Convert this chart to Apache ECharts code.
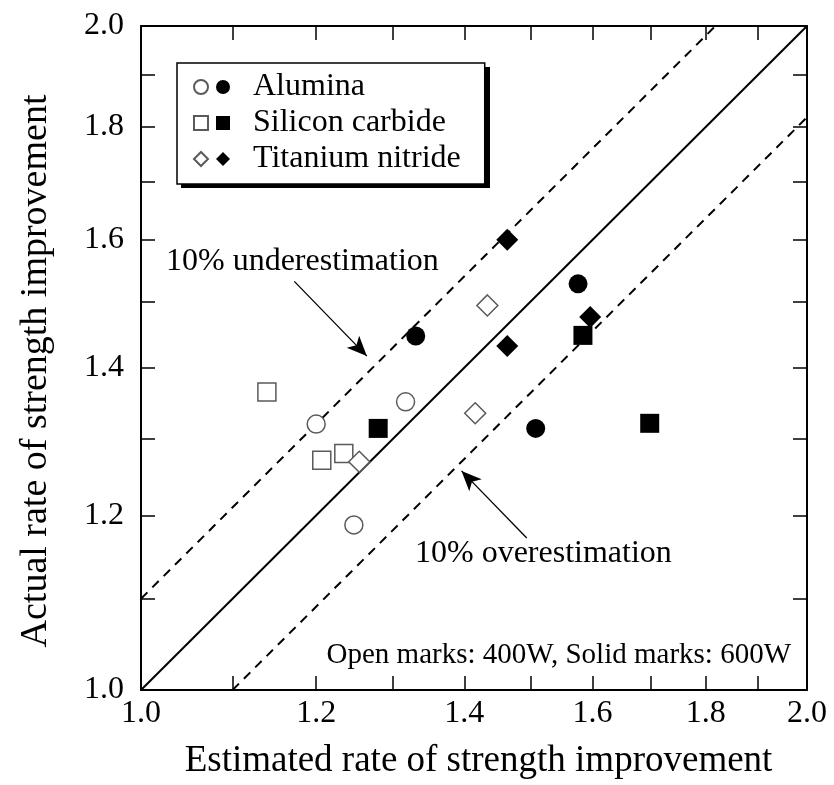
<!DOCTYPE html>
<html>
<head>
<meta charset="utf-8">
<script src="https://cdn.jsdelivr.net/npm/echarts@6/dist/echarts.min.js"></script>
<style>
html,body{margin:0;padding:0;background:#fff;}
#chart{width:834px;height:785px;}
</style>
</head>
<body>
<div id="chart"></div>
<script>
// ---- data ----
const xLabelValues = [1.0, 1.2, 1.4, 1.6, 1.8, 2.0];
const tickValues = [1.0, 1.1, 1.2, 1.3, 1.4, 1.5, 1.6, 1.7, 1.8, 1.9, 2.0];

const aluminaOpen = [[1.20, 1.32], [1.317, 1.351], [1.248, 1.188]];
const aluminaSolid = [[1.331, 1.447], [1.576, 1.528], [1.508, 1.314]];
const sicOpen = [[1.140, 1.365], [1.207, 1.271], [1.235, 1.280]];
const sicSolid = [[1.280, 1.314], [1.584, 1.448], [1.698, 1.321]];
const tinOpen = [[1.255, 1.269], [1.416, 1.335], [1.434, 1.494]];
const tinSolid = [[1.464, 1.600], [1.464, 1.432], [1.596, 1.476]];

const parityLine = [[1.0, 1.0], [2.0, 2.0]];
const underLine = [[1.0, 1.1], [2.0 / 1.1, 2.0]];
const overLine = [[1.1, 1.0], [2.0, 2.0 / 1.1]];

const underArrow = [[1.173, 1.532], [1.265, 1.417]];
const overArrow = [[1.494, 1.172], [1.396, 1.257]];

const materials = ['Alumina', 'Silicon carbide', 'Titanium nitride'];

const FONT = '"Liberation Serif", "Times New Roman", serif';

const chart = echarts.init(document.getElementById('chart'), null, {renderer: 'canvas'});

function axisCommon(showLabel) {
  return {
    type: 'log',
    logBase: 10,
    min: 1,
    max: 2,
    axisLine: {show: true, lineStyle: {color: '#000', width: 2}},
    axisTick: {show: true, inside: true, length: 14, customValues: tickValues,
      lineStyle: {color: '#000', width: 1.5}},
    axisLabel: {show: showLabel, customValues: xLabelValues, fontFamily: FONT,
      fontSize: 32, color: '#000', formatter: v => Number(v).toFixed(1)},
    splitLine: {show: false},
    minorTick: {show: false},
    minorSplitLine: {show: false}
  };
}

const openStyle = {color: '#fff', borderColor: '#5a5a5a', borderWidth: 1.5, opacity: 1};
const solidStyle = {color: '#000', borderColor: '#000', borderWidth: 0, opacity: 1};

function scatter(name, data, symbol, size, style) {
  return {
    type: 'scatter', name: name, data: data, symbol: symbol, symbolSize: size,
    itemStyle: style, z: 5, silent: true
  };
}

const option = {
  animation: false,
  backgroundColor: '#fff',
  grid: {left: 141, right: 27, top: 26, bottom: 94, containLabel: false},
  xAxis: [
    Object.assign(axisCommon(true), {
      position: 'bottom',
      name: 'Estimated rate of strength improvement',
      nameLocation: 'middle', nameGap: 53,
      nameTextStyle: {fontFamily: FONT, fontSize: 37, color: '#000', padding: [0, 0, 0, 9]},
      axisLabel: Object.assign(axisCommon(true).axisLabel, {margin: 8})
    }),
    Object.assign(axisCommon(false), {position: 'top'})
  ],
  yAxis: [
    Object.assign(axisCommon(true), {
      position: 'left',
      name: 'Actual rate of strength improvement',
      nameLocation: 'middle', nameGap: 86,
      nameTextStyle: {fontFamily: FONT, fontSize: 38, color: '#000', padding: [0, 26, 0, 0]},
      axisLabel: Object.assign(axisCommon(true).axisLabel, {margin: 17})
    }),
    Object.assign(axisCommon(false), {position: 'right'})
  ],
  legend: [
    {
      data: materials.map(m => m + ' (600W)'),
      orient: 'vertical', left: 177, top: 63,
      padding: [6, 24, 7, 39],
      itemWidth: 14, itemHeight: 14, itemGap: 0,
      selectedMode: false,
      formatter: n => n.replace(' (600W)', ''),
      textStyle: {fontFamily: FONT, fontSize: 32, color: '#000', lineHeight: 36, padding: [0, 0, 0, 18]},
      backgroundColor: '#fff', borderColor: '#000', borderWidth: 1.5
    },
    {
      data: materials.map(m => m + ' (400W)'),
      orient: 'vertical', left: 193, top: 69,
      padding: 0,
      itemWidth: 14, itemHeight: 14, itemGap: 0,
      selectedMode: false,
      formatter: () => ' ',
      textStyle: {fontFamily: FONT, fontSize: 32, color: 'rgba(0,0,0,0)', lineHeight: 36},
      z: 10
    }
  ],
  series: [
    {
      type: 'line', name: 'parity', data: parityLine, showSymbol: false, silent: true,
      lineStyle: {color: '#000', width: 2}, z: 3
    },
    {
      type: 'line', name: 'under', data: underLine, showSymbol: false, silent: true,
      lineStyle: {color: '#000', width: 2, type: [9, 7]}, z: 3,
      markLine: {
        silent: true, symbol: ['none', 'arrow'], symbolSize: [13, 20],
        label: {show: false},
        lineStyle: {color: '#000', width: 1.3, type: 'solid'},
        data: [[{coord: underArrow[0]}, {coord: underArrow[1]}]]
      }
    },
    {
      type: 'line', name: 'over', data: overLine, showSymbol: false, silent: true,
      lineStyle: {color: '#000', width: 2, type: [9, 7]}, z: 3,
      markLine: {
        silent: true, symbol: ['none', 'arrow'], symbolSize: [13, 20],
        label: {show: false},
        lineStyle: {color: '#000', width: 1.3, type: 'solid'},
        data: [[{coord: overArrow[0]}, {coord: overArrow[1]}]]
      }
    },
    scatter('Alumina (400W)', aluminaOpen, 'circle', 18, openStyle),
    scatter('Alumina (600W)', aluminaSolid, 'circle', 19, solidStyle),
    scatter('Silicon carbide (400W)', sicOpen, 'rect', 18, openStyle),
    scatter('Silicon carbide (600W)', sicSolid, 'rect', 19, solidStyle),
    scatter('Titanium nitride (400W)', tinOpen, 'diamond', 21, openStyle),
    scatter('Titanium nitride (600W)', tinSolid, 'diamond', 22, solidStyle)
  ],
  graphic: [
    {type: 'rect', silent: true, z: -1, shape: {x: 181, y: 67, width: 309, height: 121},
      style: {fill: '#000'}},
    {type: 'text', x: 166, y: 262, silent: true,
      style: {text: '10% underestimation', font: '32px ' + FONT, fill: '#000', verticalAlign: 'middle', align: 'left'}},
    {type: 'text', x: 415, y: 554, silent: true,
      style: {text: '10% overestimation', font: '32px ' + FONT, fill: '#000', verticalAlign: 'middle', align: 'left'}},
    {type: 'text', x: 791, y: 655, silent: true,
      style: {text: 'Open marks: 400W, Solid marks: 600W', font: '29px ' + FONT, fill: '#000', verticalAlign: 'middle', align: 'right'}}
  ]
};
chart.setOption(option);
</script>
</body>
</html>
